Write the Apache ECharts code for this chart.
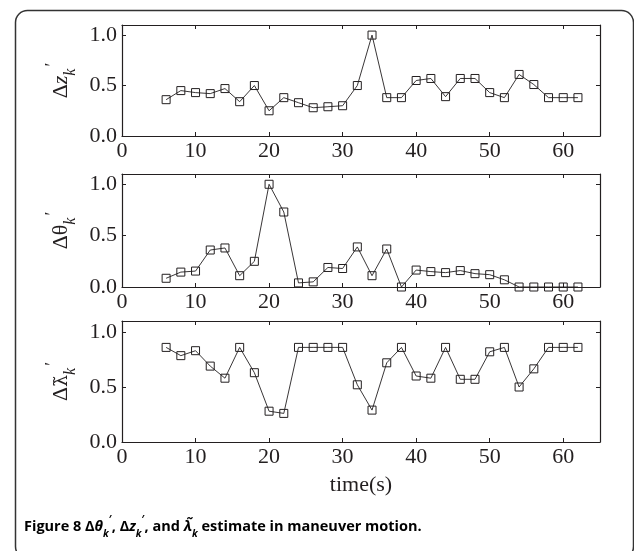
<!DOCTYPE html>
<html>
<head>
<meta charset="utf-8">
<script src="https://cdn.jsdelivr.net/npm/echarts@6/dist/echarts.min.js"></script>
<style>
  html, body { margin: 0; padding: 0; background: #fff; }
  #chart { width: 634px; height: 551px; }
</style>
</head>
<body>
<div id="chart"></div>
<script>
// time axis (s), one estimate every 2 s
var timeS = [6, 8, 10, 12, 14, 16, 18, 20, 22, 24, 26, 28, 30, 32, 34, 36, 38, 40, 42, 44, 46, 48, 50, 52, 54, 56, 58, 60, 62];

// delta z_k'
var dzValues = [0.36, 0.45, 0.43, 0.42, 0.47, 0.34, 0.50, 0.25, 0.38, 0.33, 0.28, 0.29, 0.30, 0.50, 1.00,
    0.38, 0.38, 0.55, 0.57, 0.39, 0.57, 0.57, 0.43, 0.38, 0.61, 0.51, 0.38, 0.38, 0.38];

// delta theta_k'
var dthetaValues = [0.085, 0.145, 0.155, 0.36, 0.38, 0.11, 0.25, 1.00, 0.73, 0.04, 0.05, 0.19, 0.18, 0.39, 0.11,
    0.37, 0.00, 0.165, 0.15, 0.14, 0.16, 0.13, 0.12, 0.07, 0.00, 0.00, 0.00, 0.00, 0.00];

// delta lambda~_k'
var dlambdaValues = [0.86, 0.785, 0.83, 0.69, 0.58, 0.86, 0.63, 0.28, 0.26, 0.86, 0.86, 0.86, 0.86, 0.52, 0.29,
    0.72, 0.86, 0.60, 0.58, 0.86, 0.57, 0.57, 0.82, 0.86, 0.50, 0.665, 0.86, 0.86, 0.86];

var xTicks = [0, 10, 20, 30, 40, 50, 60];
var yTicks = [0.0, 0.5, 1.0];

var yNames = [
    '{d|Δ}{i|z}{s|k}{p|′}',
    '{d|Δθ}{s|k}{p|′}',
    '{d|Δ}{l|λ\u0303}{s|k}{p|′}'
];
var captionText = '{b|Figure 8 Δ}{bi|θ}{bs|k}{bp|′}{b|, Δ}{bi|z}{bs|k}{bp|′}{b|, and }{bi|λ\u0303}{bs|k}{b| estimate in maneuver motion.}';

var serif = 'Liberation Serif';
var ink = '#231f20';
var grids = [
    { left: 122, right: 34, top: 25, height: 111 },
    { left: 122, right: 34, top: 174, height: 113 },
    { left: 122, right: 34, top: 321, height: 121 }
];
var seriesValues = [dzValues, dthetaValues, dlambdaValues];

var chartDom = document.getElementById('chart');
var myChart = echarts.init(chartDom, null, { renderer: 'canvas' });

var nameRich = {
    d: { fontFamily: serif, fontSize: 22, color: ink, lineHeight: 34, verticalAlign: 'middle' },
    l: { fontFamily: 'DejaVu Serif', fontSize: 19, color: ink, lineHeight: 34, verticalAlign: 'middle' },
    i: { fontFamily: serif, fontSize: 22, fontStyle: 'italic', color: ink, lineHeight: 34, verticalAlign: 'middle' },
    s: { fontFamily: serif, fontSize: 16, fontStyle: 'italic', color: ink, lineHeight: 16, verticalAlign: 'bottom' },
    p: { fontFamily: serif, fontSize: 18, color: ink, lineHeight: 16, verticalAlign: 'top', padding: [0, 0, 0, 2] }
};

var xAxes = [], yAxes = [], seriesList = [];
grids.forEach(function (g, i) {
    var axisLine = { show: true, onZero: false, lineStyle: { color: ink, width: 1.2 } };
    var tick = { show: true, inside: true, length: 4, lineStyle: { color: ink, width: 1 } };
    xAxes.push({
        type: 'value', gridIndex: i, min: 0, max: 65, interval: 10,
        axisLine: axisLine, axisTick: tick, splitLine: { show: false },
        axisLabel: {
            fontFamily: serif, fontSize: 22, color: ink, margin: 4, showMaxLabel: false,
            formatter: function (v) { return xTicks.indexOf(v) >= 0 ? String(v) : ''; }
        },
        name: i === 2 ? 'time(s)' : '',
        nameLocation: 'middle', nameGap: 32,
        nameTextStyle: { fontFamily: serif, fontSize: 22, color: ink }
    });
    xAxes.push({
        type: 'value', gridIndex: i, position: 'top', min: 0, max: 65, interval: 10,
        axisLine: axisLine, axisTick: tick, axisLabel: { show: false }, splitLine: { show: false }
    });
    yAxes.push({
        type: 'value', gridIndex: i, min: 0, max: 1.1, interval: 0.5,
        axisLine: axisLine, axisTick: tick, splitLine: { show: false },
        axisLabel: {
            fontFamily: serif, fontSize: 22, color: ink, margin: 5, showMaxLabel: false,
            formatter: function (v) { return yTicks.indexOf(v) >= 0 ? v.toFixed(1) : ''; }
        },
        name: yNames[i], nameLocation: 'middle', nameRotate: 90, nameGap: 40,
        nameTextStyle: { rich: nameRich }
    });
    yAxes.push({
        type: 'value', gridIndex: i, position: 'right', min: 0, max: 1.1, interval: 0.5,
        axisLine: axisLine, axisTick: tick, axisLabel: { show: false }, splitLine: { show: false }
    });
    seriesList.push({
        type: 'line',
        xAxisIndex: i * 2,
        yAxisIndex: i * 2,
        data: timeS.map(function (t, k) { return [t, seriesValues[i][k]]; }),
        symbol: 'rect',
        symbolSize: 8,
        showAllSymbol: true,
        lineStyle: { color: ink, width: 0.9 },
        itemStyle: { color: 'rgba(255,255,255,0)', borderColor: ink, borderWidth: 1 },
        emphasis: { disabled: true }
    });
});

var option = {
    backgroundColor: '#fff',
    animation: false,
    grid: grids,
    xAxis: xAxes,
    yAxis: yAxes,
    series: seriesList,
    graphic: [
        {
            type: 'rect', left: 13, top: 8, silent: true,
            shape: { width: 618, height: 548, r: 12 },
            style: { fill: 'none', stroke: '#333', lineWidth: 1.5 }
        },
        {
            type: 'text', left: 24, top: 515, silent: true,
            style: {
                text: captionText,
                rich: {
                    b: { fontFamily: 'Open Sans', fontWeight: 'bold', fontSize: 14.5, color: ink, lineHeight: 24, verticalAlign: 'middle' },
                    bi: { fontFamily: 'Open Sans', fontWeight: 'bold', fontStyle: 'italic', fontSize: 14.5, color: ink, lineHeight: 24, verticalAlign: 'middle' },
                    bs: { fontFamily: 'Open Sans', fontWeight: 'bold', fontStyle: 'italic', fontSize: 10, color: ink, lineHeight: 12, verticalAlign: 'bottom' },
                    bp: { fontFamily: 'Open Sans', fontWeight: 'bold', fontSize: 10, color: ink, lineHeight: 12, verticalAlign: 'top' }
                }
            }
        }
    ]
};
myChart.setOption(option);
</script>
</body>
</html>
